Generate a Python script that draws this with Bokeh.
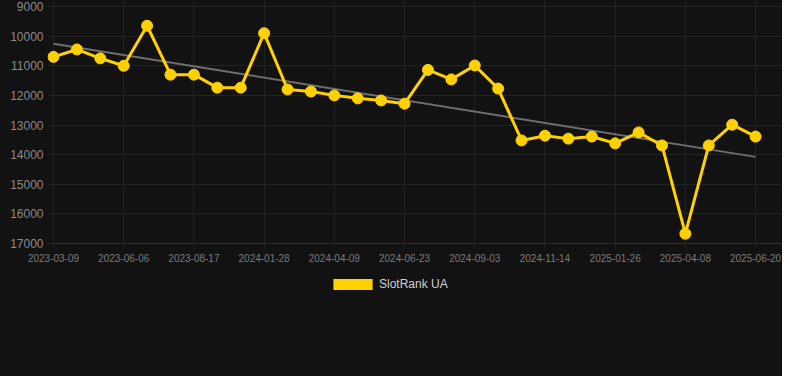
import numpy as np
from bokeh.plotting import figure
from bokeh.layouts import column
from bokeh.models import (Range1d, FixedTicker, Legend, LegendItem, ColumnDataSource)
from bokeh.embed import file_html
from bokeh.resources import INLINE

# ---- data ----
tick_labels = ["2023-03-09", "2023-06-06", "2023-08-17", "2024-01-28", "2024-04-09",
               "2024-06-23", "2024-09-03", "2024-11-14", "2025-01-26", "2025-04-08",
               "2025-06-20"]
rank = [10700, 10450, 10750, 11000, 9650, 11300, 11300, 11740, 11740, 9900,
        11800, 11870, 12000, 12100, 12170, 12280, 11140, 11460, 10990, 11770,
        13520, 13360, 13460, 13390, 13620, 13250, 13690, 16670, 13690, 12990,
        13390]
series_name = "SlotRank UA"
y_ticks = [9000, 10000, 11000, 12000, 13000, 14000, 15000, 16000, 17000]

idx = list(range(len(rank)))
tick_idx = idx[::3]

BG = "#121212"
GRID = "#222222"
GOLD = "#FFD100"

p = figure(width=782, height=270, output_backend="svg", toolbar_location=None,
           x_range=Range1d(-0.256, 31.15), y_range=Range1d(17000, 8797),
           min_border_left=47, min_border_right=0, min_border_top=0, min_border_bottom=27,
           background_fill_color=BG, border_fill_color=BG, outline_line_color=None)

# grid / axes
p.xgrid.grid_line_color = GRID
p.ygrid.grid_line_color = GRID
p.xaxis.ticker = FixedTicker(ticks=tick_idx)
p.xaxis.major_label_overrides = {i: lab for i, lab in zip(tick_idx, tick_labels)}
p.yaxis.ticker = FixedTicker(ticks=y_ticks)
p.yaxis.major_label_overrides = {v: str(v) for v in y_ticks}

p.xaxis.axis_line_color = "#2e2e2e"
p.xaxis.major_tick_line_color = GRID
p.xaxis.major_tick_out = 5
p.xaxis.major_tick_in = 0
p.xaxis.minor_tick_line_color = None
p.xaxis.major_label_text_font = "Liberation Sans"
p.xaxis.major_label_text_font_size = "10px"
p.xaxis.major_label_text_color = "#7a7a7a"
p.xaxis.major_label_standoff = 5

p.yaxis.axis_line_color = None
p.yaxis.major_tick_line_color = None
p.yaxis.minor_tick_line_color = None
p.yaxis.major_tick_out = 0
p.yaxis.major_label_standoff = 4
p.yaxis.major_label_text_font = "Liberation Sans"
p.yaxis.major_label_text_font_size = "12px"
p.yaxis.major_label_text_color = "#8a8a8a"

# trend line (least squares)
coef = np.polyfit(idx, rank, 1)
trend = [float(coef[0] * i + coef[1]) for i in (idx[0], idx[-1])]
p.line([idx[0], idx[-1]], trend, line_color="#6e6e6e", line_width=2)

# series
p.line(idx, rank, line_color=GOLD, line_width=3)
p.scatter(idx, rank, size=11, fill_color=GOLD, line_color=GOLD)

# legend panel below the chart
p2 = figure(width=782, height=106, output_backend="svg", toolbar_location=None,
            x_range=Range1d(0, 1), y_range=Range1d(0, 1),
            min_border_left=47, min_border_right=0, min_border_top=0, min_border_bottom=0,
            background_fill_color=BG, border_fill_color=BG, outline_line_color=None)
p2.axis.visible = False
p2.grid.visible = False
dummy = p2.rect(x="x", y="y", width=0.01, height=0.01,
                source=ColumnDataSource(dict(x=[-5], y=[-5])),
                fill_color=GOLD, line_color=None)
legend = Legend(items=[LegendItem(label=series_name, renderers=[dummy])],
                location=(281, 85), orientation="horizontal",
                glyph_width=49, glyph_height=14, label_standoff=2,
                label_text_font="Liberation Sans", label_text_font_size="12px",
                label_text_color="#d0d0d0", label_height=14,
                padding=0, margin=0, border_line_color=None,
                background_fill_color=None, background_fill_alpha=0)
p2.add_layout(legend, "center")

layout = column(p, p2, spacing=0, styles={"background-color": BG})
html = file_html(layout, INLINE)
open("out.html", "w").write(html)
